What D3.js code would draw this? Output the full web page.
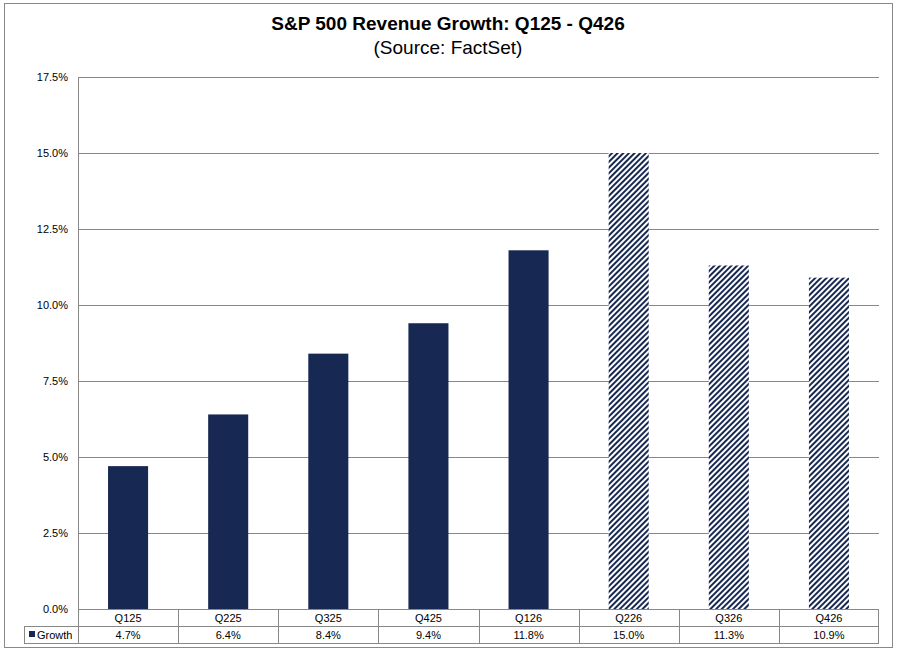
<!DOCTYPE html><html><head><meta charset="utf-8"><script src="https://d3js.org/d3.v7.min.js"></script>
<style>body{margin:0;background:#fff}</style></head><body><svg id="c" width="897" height="652"></svg><script>
const categories=["Q125","Q225","Q325","Q425","Q126","Q226","Q326","Q426"];
const growth=[4.7,6.4,8.4,9.4,11.8,15.0,11.3,10.9];
const estimate=[false,false,false,false,false,true,true,true];
const yTicks=[0,2.5,5,7.5,10,12.5,15,17.5];
const svg=d3.select("#c"),F="Arial, Liberation Sans, sans-serif",navy="#172953";
svg.append("rect").attr("x",4.5).attr("y",3.5).attr("width",888).attr("height",644).attr("fill","#fff").attr("stroke","#888");
const p=svg.append("defs").append("pattern").attr("id","h").attr("patternUnits","userSpaceOnUse").attr("width",4).attr("height",4).attr("patternTransform","rotate(45)");
p.append("rect").attr("width",4).attr("height",4).attr("fill","#fff");
p.append("rect").attr("width",2).attr("height",4).attr("fill",navy);
svg.append("text").attr("x",448).attr("y",30).attr("text-anchor","middle").attr("font-family",F).attr("font-weight","bold").attr("font-size",19).text("S&P 500 Revenue Growth: Q125 - Q426");
svg.append("text").attr("x",448).attr("y",54).attr("text-anchor","middle").attr("font-family",F).attr("font-size",19).text("(Source: FactSet)");
const x=d3.scaleBand().domain(categories).range([78,879]).paddingInner(0.6).paddingOuter(0.3);
const xb=d3.scaleBand().domain(categories).range([78,879]);
const y=d3.scaleLinear().domain([0,17.5]).range([609,77]);
svg.append("g").selectAll("line").data(yTicks).join("line").attr("x1",78).attr("x2",879).attr("y1",d=>Math.round(y(d))+.5).attr("y2",d=>Math.round(y(d))+.5).attr("stroke","#888");
svg.append("line").attr("x1",78.5).attr("x2",78.5).attr("y1",77).attr("y2",609).attr("stroke","#888");
svg.append("g").selectAll("text").data(yTicks).join("text").attr("x",68).attr("y",d=>y(d)+4).attr("text-anchor","end").attr("font-family",F).attr("font-size",11).text(d=>d.toFixed(1)+"%");
svg.append("g").selectAll("rect").data(categories).join("rect").attr("x",d=>x(d)).attr("width",x.bandwidth()).attr("y",(d,i)=>y(growth[i])).attr("height",(d,i)=>609-y(growth[i])).attr("fill",(d,i)=>estimate[i]?"url(#h)":navy);
// table
const t=svg.append("g").attr("stroke","#888");
[609.5,626.5,643.5].forEach((yy,i)=>t.append("line").attr("x1",i?24:78).attr("x2",879).attr("y1",yy).attr("y2",yy));
t.append("line").attr("x1",24.5).attr("x2",24.5).attr("y1",626).attr("y2",643);
categories.forEach(c=>t.append("line").attr("x1",Math.round(xb(c))+.5).attr("x2",Math.round(xb(c))+.5).attr("y1",609).attr("y2",643));
t.append("line").attr("x1",878.5).attr("x2",878.5).attr("y1",609).attr("y2",643);
svg.append("g").selectAll("text").data(categories).join("text").attr("x",d=>xb(d)+xb.bandwidth()/2).attr("y",622).attr("text-anchor","middle").attr("font-family",F).attr("font-size",11).text(d=>d);
svg.append("g").selectAll("text").data(growth).join("text").attr("x",(d,i)=>xb(categories[i])+xb.bandwidth()/2).attr("y",639).attr("text-anchor","middle").attr("font-family",F).attr("font-size",11).text(d=>d.toFixed(1)+"%");
svg.append("rect").attr("x",29).attr("y",631).attr("width",6).attr("height",6).attr("fill",navy);
svg.append("text").attr("x",37).attr("y",639).attr("font-family",F).attr("font-size",11).text("Growth");
</script></body></html>
